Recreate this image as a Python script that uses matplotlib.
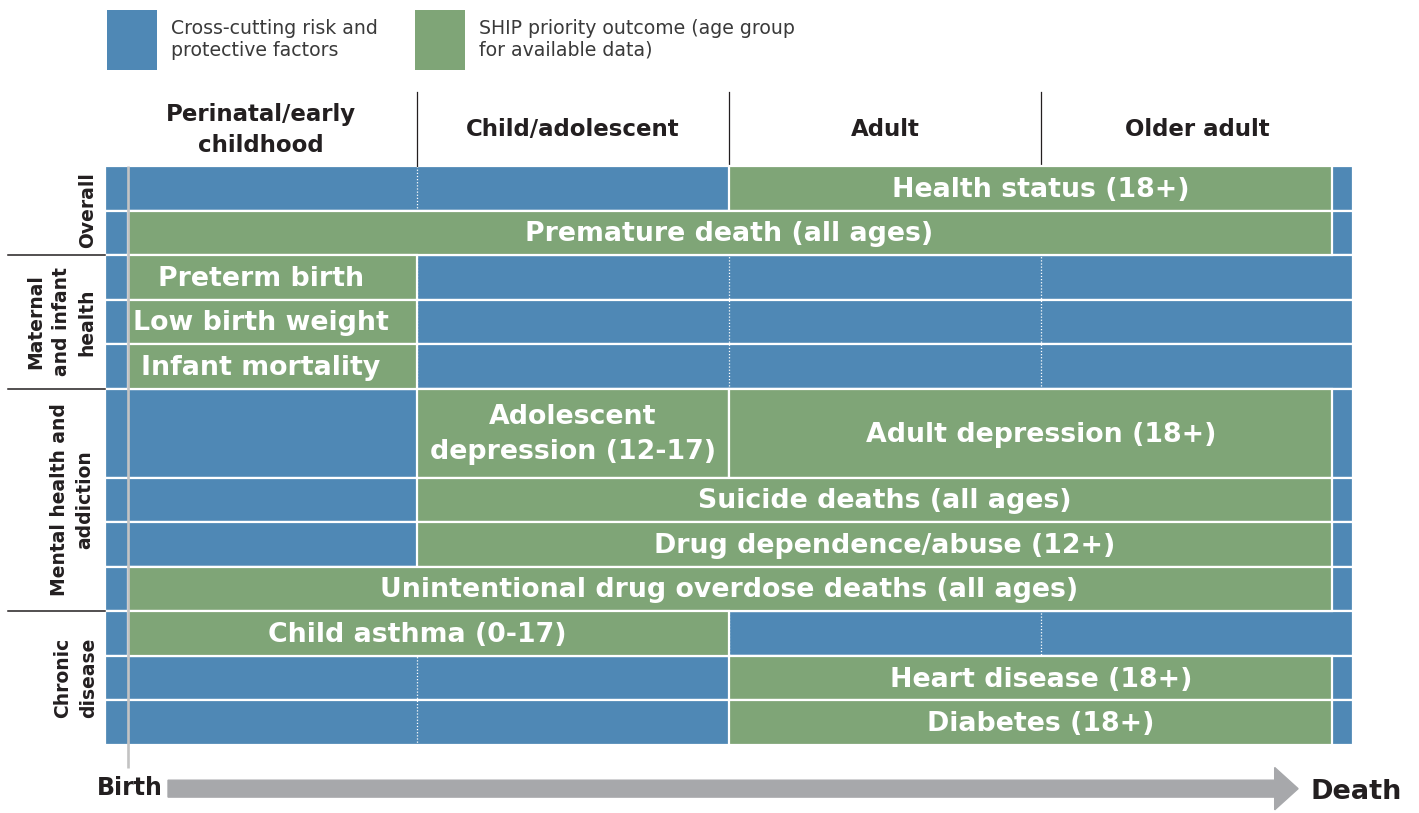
import matplotlib
matplotlib.use("Agg")
import matplotlib.pyplot as plt
from matplotlib.patches import Rectangle, FancyArrow

# ---------------- data ----------------
stages = ["Perinatal/early\nchildhood", "Child/adolescent", "Adult", "Older adult"]
domains = ["Overall", "Maternal\nand infant\nhealth", "Mental health and\naddiction", "Chronic\ndisease"]
domain_first_row = [0, 2, 5, 9]
domain_last_row = [1, 4, 8, 11]
domain_label_x = [-0.055, -0.14, -0.105, -0.095]

row_heights = [1, 1, 1, 1, 1, 2, 1, 1, 1, 1, 1, 1]

outcomes = ["Health status (18+)", "Premature death (all ages)", "Preterm birth",
            "Low birth weight", "Infant mortality", "Adolescent\ndepression (12-17)",
            "Adult depression (18+)", "Suicide deaths (all ages)",
            "Drug dependence/abuse (12+)",
            "Unintentional drug overdose deaths (all ages)", "Child asthma (0-17)",
            "Heart disease (18+)", "Diabetes (18+)"]
outcome_row = [0, 1, 2, 3, 4, 5, 5, 6, 7, 8, 9, 10, 11]
start_stage = [2, 0, 0, 0, 0, 1, 2, 1, 1, 0, 0, 2, 2]
end_stage = [4, 4, 1, 1, 1, 2, 4, 4, 4, 4, 2, 4, 4]

legend_labels = ["Cross-cutting risk and\nprotective factors",
                 "SHIP priority outcome (age group\nfor available data)"]

BLUE = "#4F88B5"
GREEN = "#7FA577"
GREY = "#A7A8AB"
BIRTH_X = 0.074   # birth line position inside first stage
DEATH_X = 3.933   # end of life position inside last stage

W, H = 1419, 813
fig = plt.figure(figsize=(W / 100, H / 100), dpi=100)
total = sum(row_heights)
ax = fig.add_axes([105 / W, (H - 745) / H, 1248 / W, 579 / H])
ax.set_xlim(0, 4)
ax.set_ylim(total, 0)
ax.axis("off")

FONT = "DejaVu Sans"

# row tops
tops = []
acc = 0
for h in row_heights:
    tops.append(acc)
    acc += h

# blue background rows
for t, h in zip(tops, row_heights):
    ax.add_patch(Rectangle((0, t), 4, h, facecolor=BLUE, edgecolor="white",
                           linewidth=1.6, zorder=1, clip_on=False))

# dotted stage separators inside blue
for s in range(1, 4):
    ax.plot([s, s], [0, total], color="white", linestyle=(0, (1, 1.5)),
            linewidth=0.9, zorder=2, clip_on=False)

def sx(stage):
    if stage == 0:
        return BIRTH_X
    if stage == 4:
        return DEATH_X
    return stage

# green outcome bars
for name, r, s0, s1 in zip(outcomes, outcome_row, start_stage, end_stage):
    x0, x1 = sx(s0), sx(s1)
    t, h = tops[r], row_heights[r]
    ax.add_patch(Rectangle((x0, t), x1 - x0, h, facecolor=GREEN, edgecolor="white",
                           linewidth=1.6, zorder=3, clip_on=False))
    ax.text((s0 + s1) / 2, t + h / 2 + 0.03, name, color="white", fontsize=19.3,
            fontweight="bold", ha="center", va="center", family=FONT,
            linespacing=1.45, zorder=5)

# birth line
ax.plot([BIRTH_X, BIRTH_X], [0, 13.52], color="#C3C3C3", linewidth=1.9,
        zorder=4, clip_on=False, solid_capstyle="butt")

# stage headers
for i, st in enumerate(stages):
    ax.text(i + 0.5, -0.81, st, ha="center", va="center", fontsize=16.5,
            fontweight="bold", family=FONT, color="#231F20", linespacing=1.45,
            clip_on=False)
for s in range(1, 4):
    ax.plot([s, s], [-1.66, 0], color="#231F20", linewidth=0.9, clip_on=False)

# domain labels and separators
for lab, r0, r1, lx in zip(domains, domain_first_row, domain_last_row, domain_label_x):
    y0 = tops[r0]
    y1 = tops[r1] + row_heights[r1]
    ax.text(lx, (y0 + y1) / 2, lab, rotation=90, ha="center", va="center",
            fontsize=13.5, fontweight="bold", family=FONT, color="#231F20",
            linespacing=1.45, clip_on=False)
for r0 in domain_first_row[1:]:
    ax.plot([-0.31, 0], [tops[r0], tops[r0]], color="#231F20", linewidth=1.1,
            clip_on=False)

# legend
for i, (lab, col) in enumerate(zip(legend_labels, [BLUE, GREEN])):
    x0 = 0.006 + i * 0.988
    ax.add_patch(Rectangle((x0, -3.51), 0.161, 1.35, facecolor=col,
                           edgecolor="none", clip_on=False))
    ax.text(x0 + 0.204, -2.84, lab, ha="left", va="center", fontsize=13.6,
            family=FONT, color="#3a3a3a", linespacing=1.15, clip_on=False)

# bottom arrow
ax.add_patch(FancyArrow(0.202, 13.98, 3.622, 0, width=0.38, head_width=0.95,
                        head_length=0.075, length_includes_head=True,
                        color=GREY, clip_on=False))
ax.text(0.08, 13.97, "Birth", ha="center", va="center", fontsize=17,
        fontweight="bold", family=FONT, color="#231F20", clip_on=False)
ax.text(4.01, 14.05, "Death", ha="center", va="center", fontsize=19.5,
        fontweight="bold", family=FONT, color="#231F20", clip_on=False)

fig.savefig("out.png", dpi=100)
